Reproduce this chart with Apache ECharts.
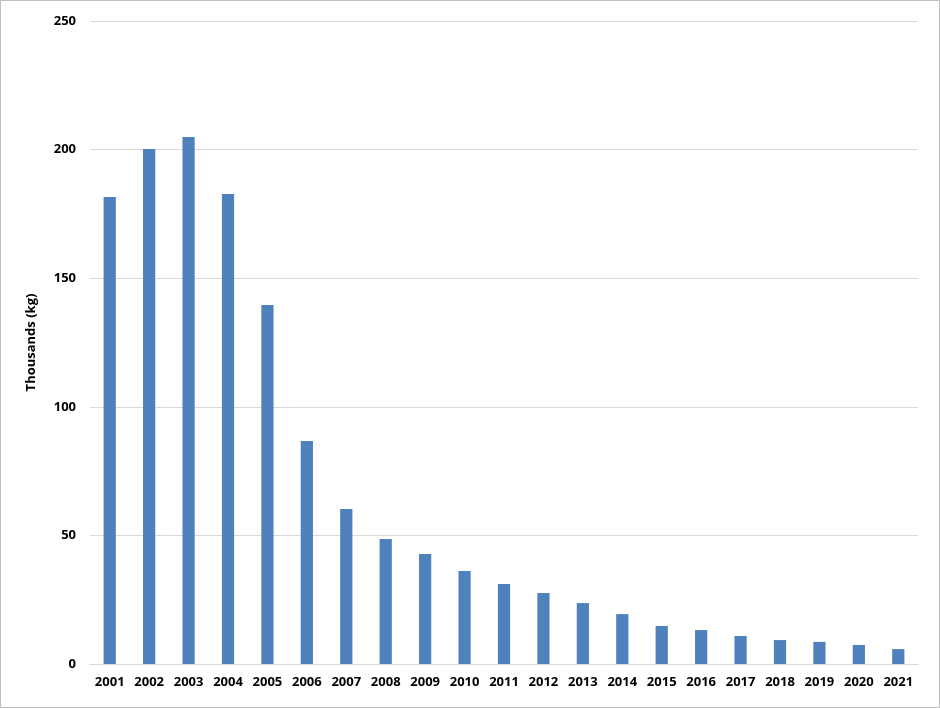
<!DOCTYPE html>
<html>
<head>
<meta charset="utf-8">
<script src="https://cdn.jsdelivr.net/npm/echarts@6/dist/echarts.min.js"></script>
<style>
html,body{margin:0;padding:0;background:#fff}
#chart{width:938px;height:706px;border:1px solid #bfbfbf}
</style>
</head>
<body>
<div id="chart"></div>
<script>
var years = ['2001','2002','2003','2004','2005','2006','2007','2008','2009','2010','2011','2012','2013','2014','2015','2016','2017','2018','2019','2020','2021'];
var thousandsKg = [181.6, 200.2, 204.9, 182.7, 139.6, 86.7, 60.3, 48.6, 42.8, 36.2, 31.1, 27.6, 23.7, 19.4, 14.8, 13.2, 10.9, 9.3, 8.6, 7.4, 5.8];

var myChart = echarts.init(document.getElementById('chart'));
var option = {
    animation: false,
    grid: {
        left: 89,
        right: 21,
        top: 20,
        bottom: 43
    },
    xAxis: {
        type: 'category',
        data: years,
        axisTick: { show: false },
        axisLine: { lineStyle: { color: '#d9d9d9' } },
        axisLabel: { color: '#000', fontWeight: 'bold', fontSize: 13, fontFamily: 'Open Sans', margin: 12 }
    },
    yAxis: {
        type: 'value',
        min: 0,
        max: 250,
        interval: 50,
        name: 'Thousands (kg)',
        nameLocation: 'middle',
        nameGap: 52,
        nameTextStyle: { color: '#000', fontWeight: 'bold', fontSize: 13, fontFamily: 'Open Sans' },
        axisLabel: { color: '#000', fontWeight: 'bold', fontSize: 13, fontFamily: 'Open Sans', margin: 14 },
        splitLine: { lineStyle: { color: '#d9d9d9' } }
    },
    series: [{
        type: 'bar',
        data: thousandsKg,
        barWidth: '31%',
        itemStyle: { color: '#4f81bd' }
    }]
};
myChart.setOption(option);
</script>
</body>
</html>
